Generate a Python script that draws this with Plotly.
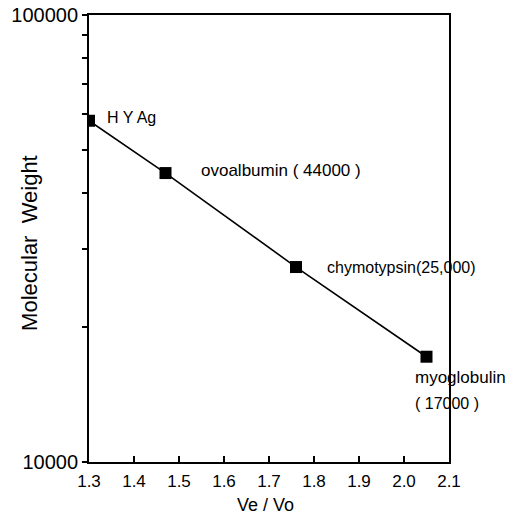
import math
import plotly.graph_objects as go

# Data
ve_vo = [1.30, 1.47, 1.76, 2.05]
mol_weight = [58000, 44300, 27300, 17200]
labels = ["H Y Ag", "ovoalbumin ( 44000 )", "chymotypsin(25,000)", "myoglobulin"]
x_ticks = [1.3, 1.4, 1.5, 1.6, 1.7, 1.8, 1.9, 2.0, 2.1]
x_tick_text = ["1.3", "1.4", "1.5", "1.6", "1.7", "1.8", "1.9", "2.0", "2.1"]
y_ticks = [10000, 20000, 30000, 40000, 50000, 60000, 70000, 80000, 90000, 100000]
y_tick_text = ["10000", "", "", "", "", "", "", "", "", "100000"]

FONT = "Liberation Sans, Arial, Helvetica, sans-serif"

fig = go.Figure()
fig.add_trace(go.Scatter(
    x=ve_vo, y=mol_weight, mode="lines+markers",
    line=dict(color="black", width=1.6),
    marker=dict(symbol="square", size=12, color="black"),
    showlegend=False, hoverinfo="skip",
))

# label offsets (pixels) relative to each point; log axis -> annotation y in log10 units
offsets = [(16, 3, 16), (33, 3, 17), (29, 0, 16), (-14, -21, 17)]
for xv, yv, lab, (dx, dy, fs) in zip(ve_vo, mol_weight, labels, offsets):
    fig.add_annotation(x=xv, y=math.log10(yv), xref="x", yref="y", text=lab, showarrow=False,
                       xanchor="left", yanchor="middle", xshift=dx, yshift=dy,
                       font=dict(family=FONT, size=fs, color="black"))
fig.add_annotation(x=ve_vo[3], y=math.log10(mol_weight[3]), xref="x", yref="y", text="( 17000 )",
                   showarrow=False, xanchor="left", yanchor="middle", xshift=-14, yshift=-47,
                   font=dict(family=FONT, size=16, color="black"))

# axis titles as annotations for exact placement
fig.add_annotation(x=-0.164, y=0.49, xref="paper", yref="paper", text="Molecular  Weight",
                   textangle=-90, showarrow=False, xanchor="center", yanchor="middle",
                   font=dict(family=FONT, size=22, color="black"))
fig.add_annotation(x=0.49, y=-0.096, xref="paper", yref="paper", text="Ve / Vo",
                   showarrow=False, xanchor="center", yanchor="middle",
                   font=dict(family=FONT, size=18, color="black"))

# partially visible caption at the bottom (cut off by the page edge, as in the reference)
fig.add_annotation(x=-0.143, y=-0.1025, xref="paper", yref="paper",
                   text="<b>Fig. 1.   Determination  of  molecular  weight</b>",
                   showarrow=False, xanchor="left", yanchor="top",
                   font=dict(family="Liberation Serif, Times New Roman, serif", size=24, color="black"))

fig.update_xaxes(
    range=[1.3, 2.1], tickvals=x_ticks, ticktext=x_tick_text,
    ticks="inside", ticklen=6, tickwidth=1.5, tickcolor="black",
    showline=True, linecolor="black", linewidth=1.8, mirror=True,
    showgrid=False, zeroline=False, automargin=False, ticklabelstandoff=3,
    tickfont=dict(family=FONT, size=17, color="black"),
)
fig.update_yaxes(
    type="log", range=[4, 5], tickvals=y_ticks, ticktext=y_tick_text,
    ticks="outside", ticklen=5, tickwidth=1.5, tickcolor="black",
    showline=True, linecolor="black", linewidth=1.8, mirror=True,
    showgrid=False, zeroline=False, automargin=False,
    tickfont=dict(family=FONT, size=20, color="black"),
)

fig.update_layout(
    width=522, height=515,
    margin=dict(l=89, r=73, t=15, b=53),
    paper_bgcolor="white", plot_bgcolor="white",
)

fig.write_html("out.html")
